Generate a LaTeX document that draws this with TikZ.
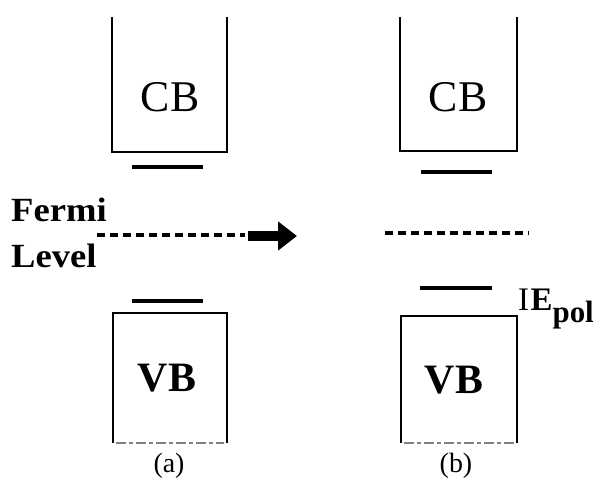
\documentclass[tikz,border=0pt]{standalone}
\usepackage{fontspec}
\setmainfont{Liberation Serif}
\usetikzlibrary{arrows.meta}
\tikzset{
  band/.style={line width=2.6bp, line join=miter},
  level/.style={line width=3.2bp},
  fermi/.style={line width=3.2bp, dash pattern=on 8bp off 5bp},
  edge/.style={line width=1.4bp, black!50, dash pattern=on 10bp off 3bp on 4bp off 3bp},
  bandlabel/.style={font=\fontsize{44}{44}\selectfont, inner sep=0pt},
  caption/.style={font=\fontsize{28}{28}\selectfont, inner sep=0pt},
  sidelabel/.style={inner sep=0pt, anchor=base west, font=\fontsize{34}{34}\selectfont\bfseries, xscale=1.08},
}
\begin{document}
\begin{tikzpicture}[x=1bp,y=-1bp]
\useasboundingbox (0,0) rectangle (601,488);

% ---- panel (a) ----
% conduction band, open at the top
\draw[band] (112,17) -- (112,152) -- (227,152) -- (227,17);
\node[bandlabel] (cba) at (170,97) {CB};
\draw[level] (132,167) -- (203,167);
% valence band, open at the bottom
\draw[band] (113,443) -- (113,313) -- (227,313) -- (227,443);
\draw[edge] (116,443) -- (224,443);
\node[bandlabel, font=\fontsize{42}{42}\selectfont\bfseries] (vba) at (167,378) {VB};
\draw[level] (132,301) -- (203,301);
\node[caption] (capa) at (169,466) {(a)};

% Fermi level label and line
\node[sidelabel] (fermi) at (11,222) {Fermi};
\node[sidelabel] (lvl) at (11,267) {Level};
\coordinate (fa) at (97,235);
\coordinate (fb) at (245,235);
\draw[fermi] (fa) -- (fb);
% transition arrow
\coordinate (ar0) at (248,236);
\coordinate (ar1) at (297,236);
\draw[line width=10bp, -{Triangle[length=19bp,width=28bp]}] (ar0) -- (ar1);

% ---- panel (b) ----
\draw[band] (400,17) -- (400,151) -- (517,151) -- (517,17);
\node[bandlabel] (cbb) at (458,97) {CB};
\draw[level] (421,172) -- (492,172);
\coordinate (fc) at (385,233);
\coordinate (fd) at (529,233);
\draw[fermi] (fc) -- (fd);
\draw[level] (420,288) -- (492,288);
\draw[band] (401,443) -- (401,316) -- (517,316) -- (517,443);
\draw[edge] (404,443) -- (514,443);
\node[bandlabel, font=\fontsize{42}{42}\selectfont\bfseries] (vbb) at (454,380) {VB};
\node[inner sep=0pt, anchor=base west, font=\fontsize{33}{33}\selectfont] (ie) at (518,310)
  {I\kern1.5bp\textbf{E}\textsubscript{\bfseries\fontsize{31}{31}\selectfont pol}};
\node[caption] (capb) at (456,466) {(b)};
\end{tikzpicture}
\end{document}
